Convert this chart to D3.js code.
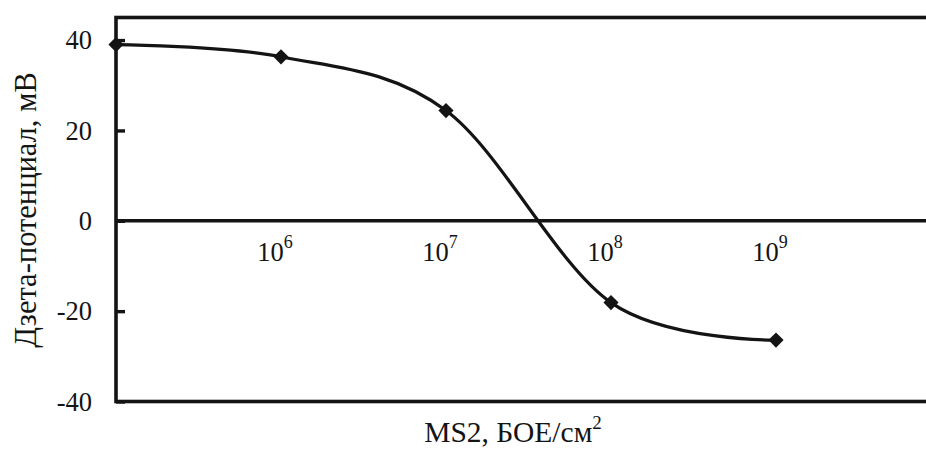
<!DOCTYPE html>
<html>
<head>
<meta charset="utf-8">
<script src="https://cdn.jsdelivr.net/npm/d3@7"></script>
<style>
  html, body { margin: 0; padding: 0; background: #fff; }
  svg { display: block; }
  text { font-family: "Liberation Serif", "Times New Roman", serif; fill: #141414; }
</style>
</head>
<body>
<svg id="chart" width="926" height="453"></svg>
<script>
// MS2 loading (PFU/cm²) and measured zeta potential (mV)
const doses = [1e5, 1e6, 1e7, 1e8, 1e9];
const zeta = [39, 36.3, 24.4, -18.1, -26.4];
const xTickValues = [1e6, 1e7, 1e8, 1e9];
const xTickExponents = ["6", "7", "8", "9"];
const yTickValues = [-40, -20, 0, 20, 40];

const svg = d3.select("#chart");
const ink = "#141414";

const x = d3.scaleLog().domain([1e5, 1e10]).range([116, 941]);
const y = d3.scaleLinear().domain([-40, 45]).range([401.5, 17.5]);

// plot frame (right edge falls outside the page)
svg.append("rect")
  .attr("x", x(1e5)).attr("y", y(45))
  .attr("width", x(1e10) - x(1e5)).attr("height", y(-40) - y(45))
  .attr("fill", "none").attr("stroke", ink).attr("stroke-width", 3.6);

// zero line
svg.append("line")
  .attr("x1", x(1e5)).attr("x2", x(1e10))
  .attr("y1", y(0)).attr("y2", y(0))
  .attr("stroke", ink).attr("stroke-width", 3.4);

// y axis with inward ticks
const yAxis = d3.axisRight(y).tickValues(yTickValues).tickSize(9).tickFormat("");
const yg = svg.append("g").attr("transform", `translate(${x(1e5)},0)`).call(yAxis);
yg.select(".domain").remove();
yg.selectAll(".tick line").attr("stroke", ink).attr("stroke-width", 3.4);

svg.append("g").selectAll("text")
  .data(yTickValues)
  .join("text")
  .attr("x", 92)
  .attr("y", d => y(d))
  .attr("dy", "0.35em")
  .attr("text-anchor", "end")
  .attr("font-size", 26.5)
  .text(d => d);

// x tick labels (powers of ten) sitting under the zero line
const xl = svg.append("g").selectAll("text")
  .data(xTickValues)
  .join("text")
  .attr("x", d => x(d) - 6)
  .attr("y", y(0) + 40)
  .attr("text-anchor", "middle")
  .attr("font-size", 26.5);
xl.append("tspan").text("10");
xl.append("tspan")
  .attr("font-size", 18)
  .attr("dy", -13)
  .text((d, i) => xTickExponents[i]);

// smoothed curve through the measurements
const pts = doses.map((d, i) => [d, zeta[i]]);
const line = d3.line()
  .x(d => x(d[0]))
  .y(d => y(d[1]))
  .curve(d3.curveCardinal.tension(0));
svg.append("path")
  .datum(pts)
  .attr("d", line)
  .attr("fill", "none")
  .attr("stroke", ink)
  .attr("stroke-width", 3.2);

// diamond markers
svg.append("g").selectAll("path")
  .data(pts)
  .join("path")
  .attr("transform", d => `translate(${x(d[0])},${y(d[1])}) rotate(45)`)
  .attr("d", d3.symbol().type(d3.symbolSquare).size(115))
  .attr("fill", ink);

// axis titles
const xt = svg.append("text")
  .attr("x", 513)
  .attr("y", 442)
  .attr("text-anchor", "middle")
  .attr("font-size", 29.5);
xt.append("tspan").text("MS2, БОЕ/см");
xt.append("tspan").attr("font-size", 19).attr("dy", -13).text("2");

svg.append("text")
  .attr("transform", "translate(36,210) rotate(-90)")
  .attr("text-anchor", "middle")
  .attr("font-size", 30.5)
  .text("Дзета-потенциал, мВ");
</script>
</body>
</html>
